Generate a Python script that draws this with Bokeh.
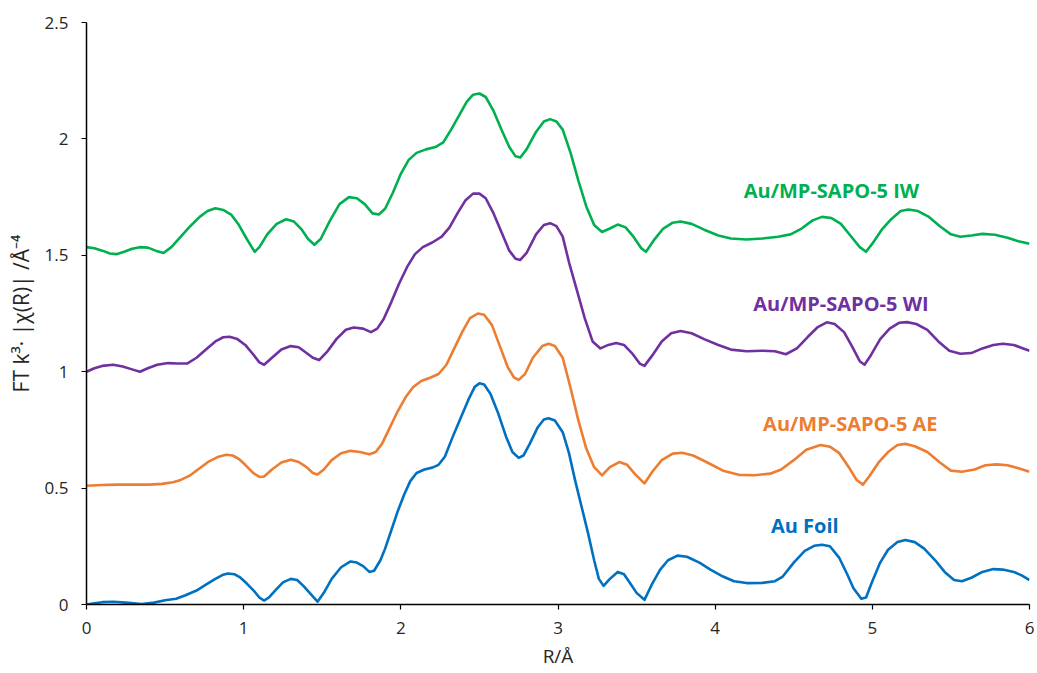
from bokeh.plotting import figure
from bokeh.models import FixedTicker, NumeralTickFormatter, Range1d
from bokeh.core.properties import value
from bokeh.embed import file_html
from bokeh.resources import INLINE

# Au Foil
foil_r = [0, 0.05, 0.1, 0.17, 0.25, 0.35, 0.43, 0.5, 0.57, 0.63, 0.7, 0.76, 0.82, 0.87, 0.9, 0.94, 0.98, 1.02, 1.07,
          1.1, 1.13, 1.16, 1.2, 1.25, 1.3, 1.34, 1.38, 1.42, 1.47, 1.51, 1.56, 1.62, 1.68, 1.72, 1.76, 1.8, 1.83, 1.87,
          1.9, 1.94, 1.98, 2.02, 2.06, 2.1, 2.15, 2.2, 2.24, 2.28, 2.33, 2.38, 2.43, 2.47, 2.5, 2.53, 2.57, 2.62, 2.67,
          2.71, 2.75, 2.78, 2.82, 2.87, 2.91, 2.94, 2.98, 3.03, 3.07, 3.11, 3.15, 3.19, 3.23, 3.26, 3.29, 3.33, 3.38,
          3.42, 3.46, 3.5, 3.55, 3.6, 3.65, 3.7, 3.76, 3.82, 3.9, 3.97, 4.05, 4.12, 4.2, 4.3, 4.38, 4.43, 4.5, 4.57,
          4.63, 4.68, 4.73, 4.79, 4.84, 4.88, 4.93, 4.96, 5.0, 5.05, 5.1, 5.16, 5.21, 5.27, 5.33, 5.4, 5.46, 5.52,
          5.57, 5.63, 5.7, 5.77, 5.83, 5.9, 5.95, 6.0]
foil_v = [0.0, 0.005, 0.01, 0.012, 0.008, 0.002, 0.008, 0.018, 0.025, 0.04, 0.06, 0.085, 0.11, 0.128, 0.133, 0.13,
          0.115, 0.09, 0.055, 0.03, 0.017, 0.03, 0.06, 0.095, 0.11, 0.105, 0.08, 0.05, 0.012, 0.05, 0.11, 0.16, 0.185,
          0.18, 0.165, 0.14, 0.145, 0.19, 0.24, 0.32, 0.40, 0.47, 0.53, 0.565, 0.58, 0.588, 0.6, 0.635, 0.72, 0.80,
          0.88, 0.935, 0.95, 0.945, 0.905, 0.82, 0.72, 0.655, 0.63, 0.64, 0.69, 0.76, 0.795, 0.80, 0.79, 0.74, 0.65,
          0.53, 0.42, 0.31, 0.19, 0.11, 0.08, 0.11, 0.14, 0.13, 0.09, 0.05, 0.02, 0.09, 0.15, 0.19, 0.21, 0.205, 0.18,
          0.15, 0.12, 0.1, 0.092, 0.093, 0.1, 0.12, 0.18, 0.23, 0.252, 0.257, 0.25, 0.2, 0.13, 0.07, 0.025, 0.03, 0.1,
          0.18, 0.235, 0.268, 0.277, 0.268, 0.24, 0.19, 0.14, 0.105, 0.1, 0.115, 0.14, 0.152, 0.15, 0.14, 0.125, 0.105]

# Au/MP-SAPO-5 AE
ae_r = [0, 0.1, 0.2, 0.3, 0.4, 0.48, 0.55, 0.6, 0.66, 0.72, 0.78, 0.84, 0.89, 0.93, 0.97, 1.01, 1.06, 1.1, 1.13, 1.18,
        1.24, 1.3, 1.35, 1.4, 1.44, 1.47, 1.51, 1.56, 1.62, 1.68, 1.74, 1.8, 1.84, 1.88, 1.93, 1.98, 2.03, 2.08, 2.13,
        2.19, 2.24, 2.29, 2.34, 2.39, 2.44, 2.49, 2.53, 2.58, 2.63, 2.68, 2.72, 2.75, 2.79, 2.84, 2.9, 2.94, 2.98, 3.03,
        3.08, 3.13, 3.18, 3.23, 3.28, 3.33, 3.39, 3.44, 3.49, 3.55, 3.6, 3.66, 3.73, 3.79, 3.86, 3.95, 4.05, 4.15, 4.25,
        4.35, 4.42, 4.5, 4.58, 4.67, 4.73, 4.79, 4.85, 4.9, 4.94, 4.98, 5.04, 5.1, 5.16, 5.21, 5.27, 5.35, 5.43, 5.5,
        5.57, 5.65, 5.72, 5.79, 5.86, 5.93, 6.0]
ae_v = [0.51, 0.513, 0.515, 0.515, 0.515, 0.518, 0.525, 0.535, 0.555, 0.585, 0.615, 0.635, 0.643, 0.64, 0.625, 0.6,
        0.565, 0.548, 0.55, 0.58, 0.61, 0.622, 0.612, 0.59, 0.565, 0.558, 0.58, 0.62, 0.65, 0.66, 0.655, 0.645, 0.655,
        0.69, 0.76, 0.83, 0.89, 0.935, 0.96, 0.975, 0.99, 1.03, 1.1, 1.17, 1.23, 1.25, 1.245, 1.2, 1.11, 1.02, 0.975,
        0.965, 0.99, 1.06, 1.11, 1.12, 1.11, 1.06, 0.93, 0.79, 0.67, 0.59, 0.555, 0.59, 0.612, 0.6, 0.56, 0.52, 0.57,
        0.62, 0.648, 0.652, 0.64, 0.61, 0.575, 0.557, 0.555, 0.562, 0.58, 0.62, 0.665, 0.685, 0.678, 0.65, 0.59, 0.535,
        0.515, 0.55, 0.61, 0.655, 0.685, 0.69, 0.68, 0.655, 0.61, 0.575, 0.57, 0.58, 0.598, 0.602, 0.598, 0.585, 0.57]

# Au/MP-SAPO-5 WI
wi_r = [0, 0.05, 0.1, 0.17, 0.23, 0.29, 0.34, 0.39, 0.45, 0.52, 0.58, 0.64, 0.7, 0.76, 0.82, 0.87, 0.91, 0.96, 1.01,
        1.06, 1.1, 1.13, 1.18, 1.24, 1.3, 1.35, 1.4, 1.44, 1.48, 1.53, 1.59, 1.65, 1.7, 1.76, 1.81, 1.85, 1.89, 1.94,
        1.99, 2.04, 2.09, 2.14, 2.2, 2.26, 2.31, 2.36, 2.41, 2.46, 2.5, 2.54, 2.59, 2.64, 2.69, 2.73, 2.76, 2.8, 2.86,
        2.91, 2.95, 2.99, 3.03, 3.07, 3.12, 3.17, 3.22, 3.27, 3.32, 3.37, 3.42, 3.47, 3.52, 3.55, 3.6, 3.66, 3.72,
        3.78, 3.85, 3.93, 4.02, 4.1, 4.2, 4.3, 4.38, 4.45, 4.52, 4.59, 4.65, 4.71, 4.76, 4.82, 4.87, 4.92, 4.95, 4.99,
        5.05, 5.11, 5.17, 5.22, 5.28, 5.35, 5.42, 5.49, 5.56, 5.63, 5.7, 5.77, 5.83, 5.9, 5.96, 6.0]
wi_v = [1.0, 1.015, 1.025, 1.03, 1.022, 1.01, 1.0, 1.015, 1.03, 1.037, 1.035, 1.035, 1.06, 1.095, 1.13, 1.148, 1.15,
        1.14, 1.115, 1.075, 1.04, 1.03, 1.06, 1.095, 1.11, 1.105, 1.08, 1.06, 1.05, 1.085, 1.14, 1.18, 1.19, 1.185,
        1.17, 1.185, 1.225, 1.3, 1.38, 1.45, 1.505, 1.535, 1.555, 1.58, 1.62, 1.68, 1.735, 1.765, 1.765, 1.745, 1.68,
        1.6, 1.52, 1.485, 1.48, 1.51, 1.59, 1.63, 1.638, 1.625, 1.58, 1.47, 1.35, 1.23, 1.13, 1.1, 1.115, 1.123,
        1.115, 1.08, 1.035, 1.025, 1.07, 1.13, 1.165, 1.175, 1.165, 1.14, 1.115, 1.095, 1.088, 1.09, 1.088, 1.075,
        1.1, 1.15, 1.19, 1.212, 1.205, 1.17, 1.11, 1.045, 1.03, 1.07, 1.14, 1.185, 1.21, 1.213, 1.205, 1.18, 1.13,
        1.09, 1.077, 1.08, 1.1, 1.115, 1.12, 1.115, 1.1, 1.09]

# Au/MP-SAPO-5 IW
iw_r = [0, 0.05, 0.1, 0.15, 0.19, 0.24, 0.29, 0.34, 0.39, 0.44, 0.49, 0.54, 0.6, 0.66, 0.72, 0.77, 0.82, 0.87, 0.92,
        0.97, 1.02, 1.07, 1.1, 1.15, 1.21, 1.27, 1.32, 1.37, 1.41, 1.45, 1.49, 1.55, 1.61, 1.67, 1.72, 1.77, 1.82,
        1.86, 1.9, 1.95, 2.0, 2.05, 2.1, 2.16, 2.22, 2.27, 2.32, 2.37, 2.42, 2.46, 2.5, 2.54, 2.59, 2.64, 2.69, 2.73,
        2.76, 2.8, 2.86, 2.91, 2.95, 2.99, 3.03, 3.08, 3.13, 3.18, 3.23, 3.28, 3.33, 3.38, 3.43, 3.48, 3.53, 3.56,
        3.61, 3.67, 3.73, 3.78, 3.85, 3.93, 4.02, 4.1, 4.2, 4.3, 4.4, 4.48, 4.55, 4.62, 4.68, 4.74, 4.8, 4.86, 4.92,
        4.96, 5.0, 5.06, 5.12, 5.18, 5.23, 5.29, 5.36, 5.43, 5.5, 5.56, 5.63, 5.7, 5.78, 5.86, 5.93, 6.0]
iw_v = [1.535, 1.53, 1.52, 1.508, 1.505, 1.515, 1.528, 1.535, 1.533, 1.52, 1.51, 1.535, 1.58, 1.625, 1.665, 1.69,
        1.702, 1.695, 1.675, 1.63, 1.57, 1.515, 1.535, 1.59, 1.635, 1.655, 1.645, 1.61, 1.57, 1.545, 1.57, 1.65, 1.72,
        1.75, 1.745, 1.72, 1.68, 1.675, 1.7, 1.77, 1.85, 1.91, 1.94, 1.955, 1.965, 1.985, 2.04, 2.1, 2.16, 2.19,
        2.195, 2.18, 2.12, 2.04, 1.965, 1.925, 1.92, 1.955, 2.03, 2.075, 2.085, 2.075, 2.04, 1.94, 1.82, 1.71, 1.63,
        1.6, 1.615, 1.632, 1.62, 1.58, 1.53, 1.515, 1.565, 1.615, 1.64, 1.645, 1.635, 1.61, 1.585, 1.572, 1.568,
        1.572, 1.58, 1.59, 1.615, 1.65, 1.665, 1.66, 1.635, 1.585, 1.535, 1.515, 1.55, 1.61, 1.655, 1.69, 1.697,
        1.69, 1.665, 1.625, 1.59, 1.58, 1.585, 1.592, 1.588, 1.575, 1.56, 1.55]

labels = ["Au Foil", "Au/MP-SAPO-5 AE", "Au/MP-SAPO-5 WI", "Au/MP-SAPO-5 IW"]
label_x = [4.57, 4.86, 4.80, 4.74]
label_y = [0.34, 0.777, 1.293, 1.778]
colors = ["#0070C0", "#ED7D31", "#7030A0", "#00B050"]

x_ticks = [0, 1, 2, 3, 4, 5, 6]
y_ticks = [0, 0.5, 1, 1.5, 2, 2.5]

p = figure(width=1037, height=673, output_backend="svg", toolbar_location=None,
           x_range=Range1d(0, 6), y_range=Range1d(0, 2.5),
           min_border_left=86, min_border_right=8, min_border_top=22, min_border_bottom=69)
p.outline_line_color = None
p.xgrid.visible = False
p.ygrid.visible = False

series = [(foil_r, foil_v), (ae_r, ae_v), (wi_r, wi_v), (iw_r, iw_v)]
for (r, v), c in zip(series, colors):
    p.line(r, v, line_color=c, line_width=2.6, line_join="round")

for lx, ly, t, c in zip(label_x, label_y, labels, colors):
    p.text(x=[lx], y=[ly], text=[t], text_color=c, text_align="center", text_baseline="middle",
           text_font=value("Open Sans"), text_font_style="bold", text_font_size="20px")

for ax in (p.xaxis[0], p.yaxis[0]):
    ax.axis_line_color = "black"
    ax.axis_line_width = 1.5
    ax.major_tick_line_color = "black"
    ax.major_tick_line_width = 1.2
    ax.major_tick_in = 0
    ax.major_tick_out = 5
    ax.minor_tick_line_color = None
    ax.major_label_text_font = "Open Sans"
    ax.major_label_text_font_size = "17px"
    ax.major_label_text_color = "#262626"
    ax.axis_label_text_font = "Open Sans"
    ax.axis_label_text_font_size = "18px"
    ax.axis_label_text_font_style = "normal"
    ax.axis_label_text_color = "#262626"

p.xaxis.ticker = FixedTicker(ticks=x_ticks)
p.yaxis.ticker = FixedTicker(ticks=y_ticks)
p.yaxis.formatter = NumeralTickFormatter(format="0.[0]")
p.xaxis.axis_label = "R/Å"
p.xaxis.axis_label_text_font_size = "19px"
p.yaxis.axis_label = "FT k³· |χ(R)| /Å⁻⁴"
p.yaxis.axis_label_text_font_size = "21px"
p.xaxis.major_label_standoff = 12
p.yaxis.major_label_standoff = 13
p.xaxis.axis_label_standoff = 6
p.yaxis.axis_label_standoff = 7

open("out.html", "w").write(file_html(p, INLINE))
